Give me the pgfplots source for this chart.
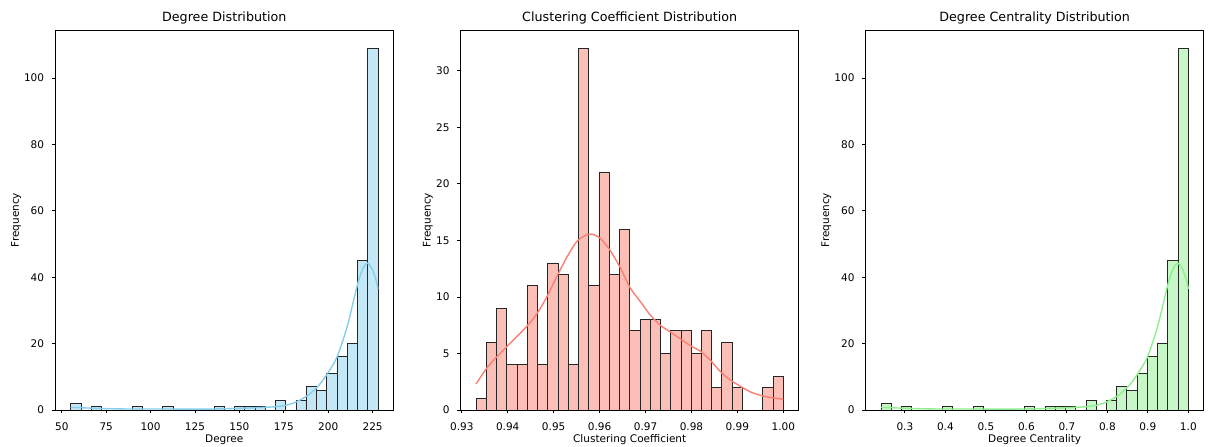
\documentclass[border=0pt]{standalone}
\usepackage{fontspec}
\setmainfont{DejaVu Sans}
\usepackage{pgfplots}
\usepackage{pgfplotstable}
\pgfplotsset{compat=1.18}
\definecolor{skyfill}{RGB}{195,231,245}
\definecolor{skyline}{RGB}{135,206,235}
\definecolor{salfill}{RGB}{252,191,184}
\definecolor{salline}{RGB}{250,128,114}
\definecolor{grnfill}{RGB}{199,246,199}
\definecolor{grnline}{RGB}{144,238,144}

\pgfplotstableread{
x y
55 2
60.767 0
66.533 1
72.3 0
78.067 0
83.833 0
89.6 1
95.367 0
101.133 0
106.9 1
112.667 0
118.433 0
124.2 0
129.967 0
135.733 1
141.5 0
147.267 1
153.033 1
158.8 1
164.567 0
170.333 3
176.1 0
181.867 3
187.633 7
193.4 6
199.167 11
204.933 16
210.7 20
216.467 45
222.233 109
228 0
}\degreehist

\pgfplotstableread{
x y
0.241228 2
0.266520 0
0.291812 1
0.317105 0
0.342398 0
0.367689 0
0.392982 1
0.418276 0
0.443566 0
0.468860 1
0.494154 0
0.519443 0
0.544737 0
0.570031 0
0.595320 1
0.620614 0
0.645908 1
0.671197 1
0.696491 1
0.721785 0
0.747075 3
0.772368 0
0.797662 3
0.822952 7
0.848246 6
0.873539 11
0.898829 16
0.924123 20
0.949417 45
0.974706 109
1.0 0
}\centhist

\pgfplotstableread{
x y
0.933110 1
0.935340 6
0.937569 9
0.939799 4
0.942029 4
0.944259 11
0.946488 4
0.948718 13
0.950948 12
0.953177 4
0.955407 32
0.957637 11
0.959866 21
0.962096 12
0.964326 16
0.966556 7
0.968785 8
0.971015 8
0.973245 5
0.975474 7
0.977704 7
0.979934 5
0.982163 7
0.984393 2
0.986623 6
0.988853 2
0.991082 0
0.993312 0
0.995542 2
0.997771 3
1.0 0
}\clusthist

\pgfplotsset{
  panel/.style={
    scale only axis, width=338pt, height=380pt,
    anchor=south west,
    ymin=0,
    axis line style={black, line width=0.8pt},
    tick align=outside, major tick length=3.5pt,
    every tick/.style={black, line width=0.8pt},
    xtick pos=bottom, ytick pos=left,
    tick label style={font=\fontsize{10.5}{12}\selectfont, inner sep=0pt},
    xticklabel style={anchor=north, yshift=-9pt},
    yticklabel style={anchor=east, xshift=-7.5pt},
    /pgf/number format/assume math mode=true,
    scaled ticks=false,
    every axis title/.style={at={(0.5,1)}, anchor=base, yshift=8.2pt, font=\fontsize{12.7}{14}\selectfont},
    every axis x label/.style={at={(axis description cs:0.5,0)}, anchor=base, yshift=-32.5pt, font=\fontsize{10.5}{12}\selectfont},
  },
  ylab/.style={every axis y label/.style={at={([xshift=-#1]axis description cs:0,0.5)}, anchor=base, rotate=90, font=\fontsize{10.5}{12}\selectfont}},
  hist/.style={ybar interval, fill=#1, draw=black!85, line width=0.8pt},
}

\begin{document}
\begin{tikzpicture}
\useasboundingbox (0,0) rectangle (1208pt,447pt);

\begin{axis}[panel, ylab=36.3pt, at={(55.3pt,37pt)},
  xmin=46.35, xmax=236.65, ymax=114.45,
  xtick={50,75,100,125,150,175,200,225}, ytick={0,20,40,60,80,100},
  title={Degree Distribution}, xlabel={Degree}, ylabel={Frequency}]
\addplot[hist=skyfill] table[x=x,y=y]{\degreehist};
\addplot[skyline, line width=1.4pt, smooth] coordinates {
(55,0.8) (62,0.65) (70,0.5) (80,0.35) (90,0.3) (100,0.3) (110,0.3) (120,0.25) (130,0.25) (140,0.35) (150,0.5) (160,0.7) (168,0.9) (175,1.3) (181,2.2) (188,4.2) (194,7) (199,10.5) (205,16) (210.6,25) (214.3,33) (217.1,39) (219.9,43) (222.2,44.2) (224.6,42.6) (227,39) (228,36.5)
};
\end{axis}

\begin{axis}[panel, ylab=30.1pt, at={(460.7pt,37pt)},
  xmin=0.92976, xmax=1.003345, ymax=33.6,
  xtick={0.93,0.94,0.95,0.96,0.97,0.98,0.99,1.00}, ytick={0,5,10,15,20,25,30},
  xticklabel style={/pgf/number format/.cd, fixed, fixed zerofill, precision=2},
  title={Clustering Coefficient Distribution}, xlabel={Clustering Coefficient}, ylabel={Frequency}]
\addplot[hist=salfill] table[x=x,y=y]{\clusthist};
\addplot[salline, line width=1.4pt, smooth] coordinates {
(0.93309,2.3) (0.93542,3.7) (0.93761,4.7) (0.9398,5.6) (0.94197,6.5) (0.94415,7.4) (0.94633,8.5) (0.9485,10.0) (0.95068,11.8) (0.95286,13.5) (0.95504,14.9) (0.95722,15.5) (0.95831,15.55) (0.96012,15.2) (0.9623,14.1) (0.96448,12.6) (0.96666,10.8) (0.96884,9.6) (0.97102,8.4) (0.9732,7.5) (0.97538,6.9) (0.97756,6.3) (0.97974,5.7) (0.98192,5.2) (0.9841,4.4) (0.98628,3.4) (0.98846,2.65) (0.99064,2.1) (0.99282,1.6) (0.995,1.3) (0.99718,1.1) (1.0,0.95)
};
\end{axis}

\begin{axis}[panel, ylab=36.5pt, at={(865.7pt,37pt)},
  xmin=0.20329, xmax=1.03794, ymax=114.45,
  xtick={0.3,0.4,0.5,0.6,0.7,0.8,0.9,1.0}, ytick={0,20,40,60,80,100},
  xticklabel style={/pgf/number format/.cd, fixed, fixed zerofill, precision=1},
  title={Degree Centrality Distribution}, xlabel={Degree Centrality}, ylabel={Frequency}]
\addplot[hist=grnfill] table[x=x,y=y]{\centhist};
\addplot[grnline, line width=1.4pt, smooth] coordinates {
(0.2412,0.8) (0.2719,0.65) (0.3070,0.5) (0.3509,0.35) (0.3947,0.3) (0.4386,0.3) (0.4825,0.3) (0.5263,0.25) (0.5702,0.25) (0.6140,0.35) (0.6579,0.5) (0.7018,0.7) (0.7368,0.9) (0.7675,1.3) (0.7939,2.2) (0.8246,4.2) (0.8509,7) (0.8728,10.5) (0.8991,16) (0.9237,25) (0.9399,33) (0.9522,39) (0.9645,43) (0.9746,44.2) (0.9851,42.6) (0.9956,39) (1.0,36.5)
};
\end{axis}
\end{tikzpicture}
\end{document}
